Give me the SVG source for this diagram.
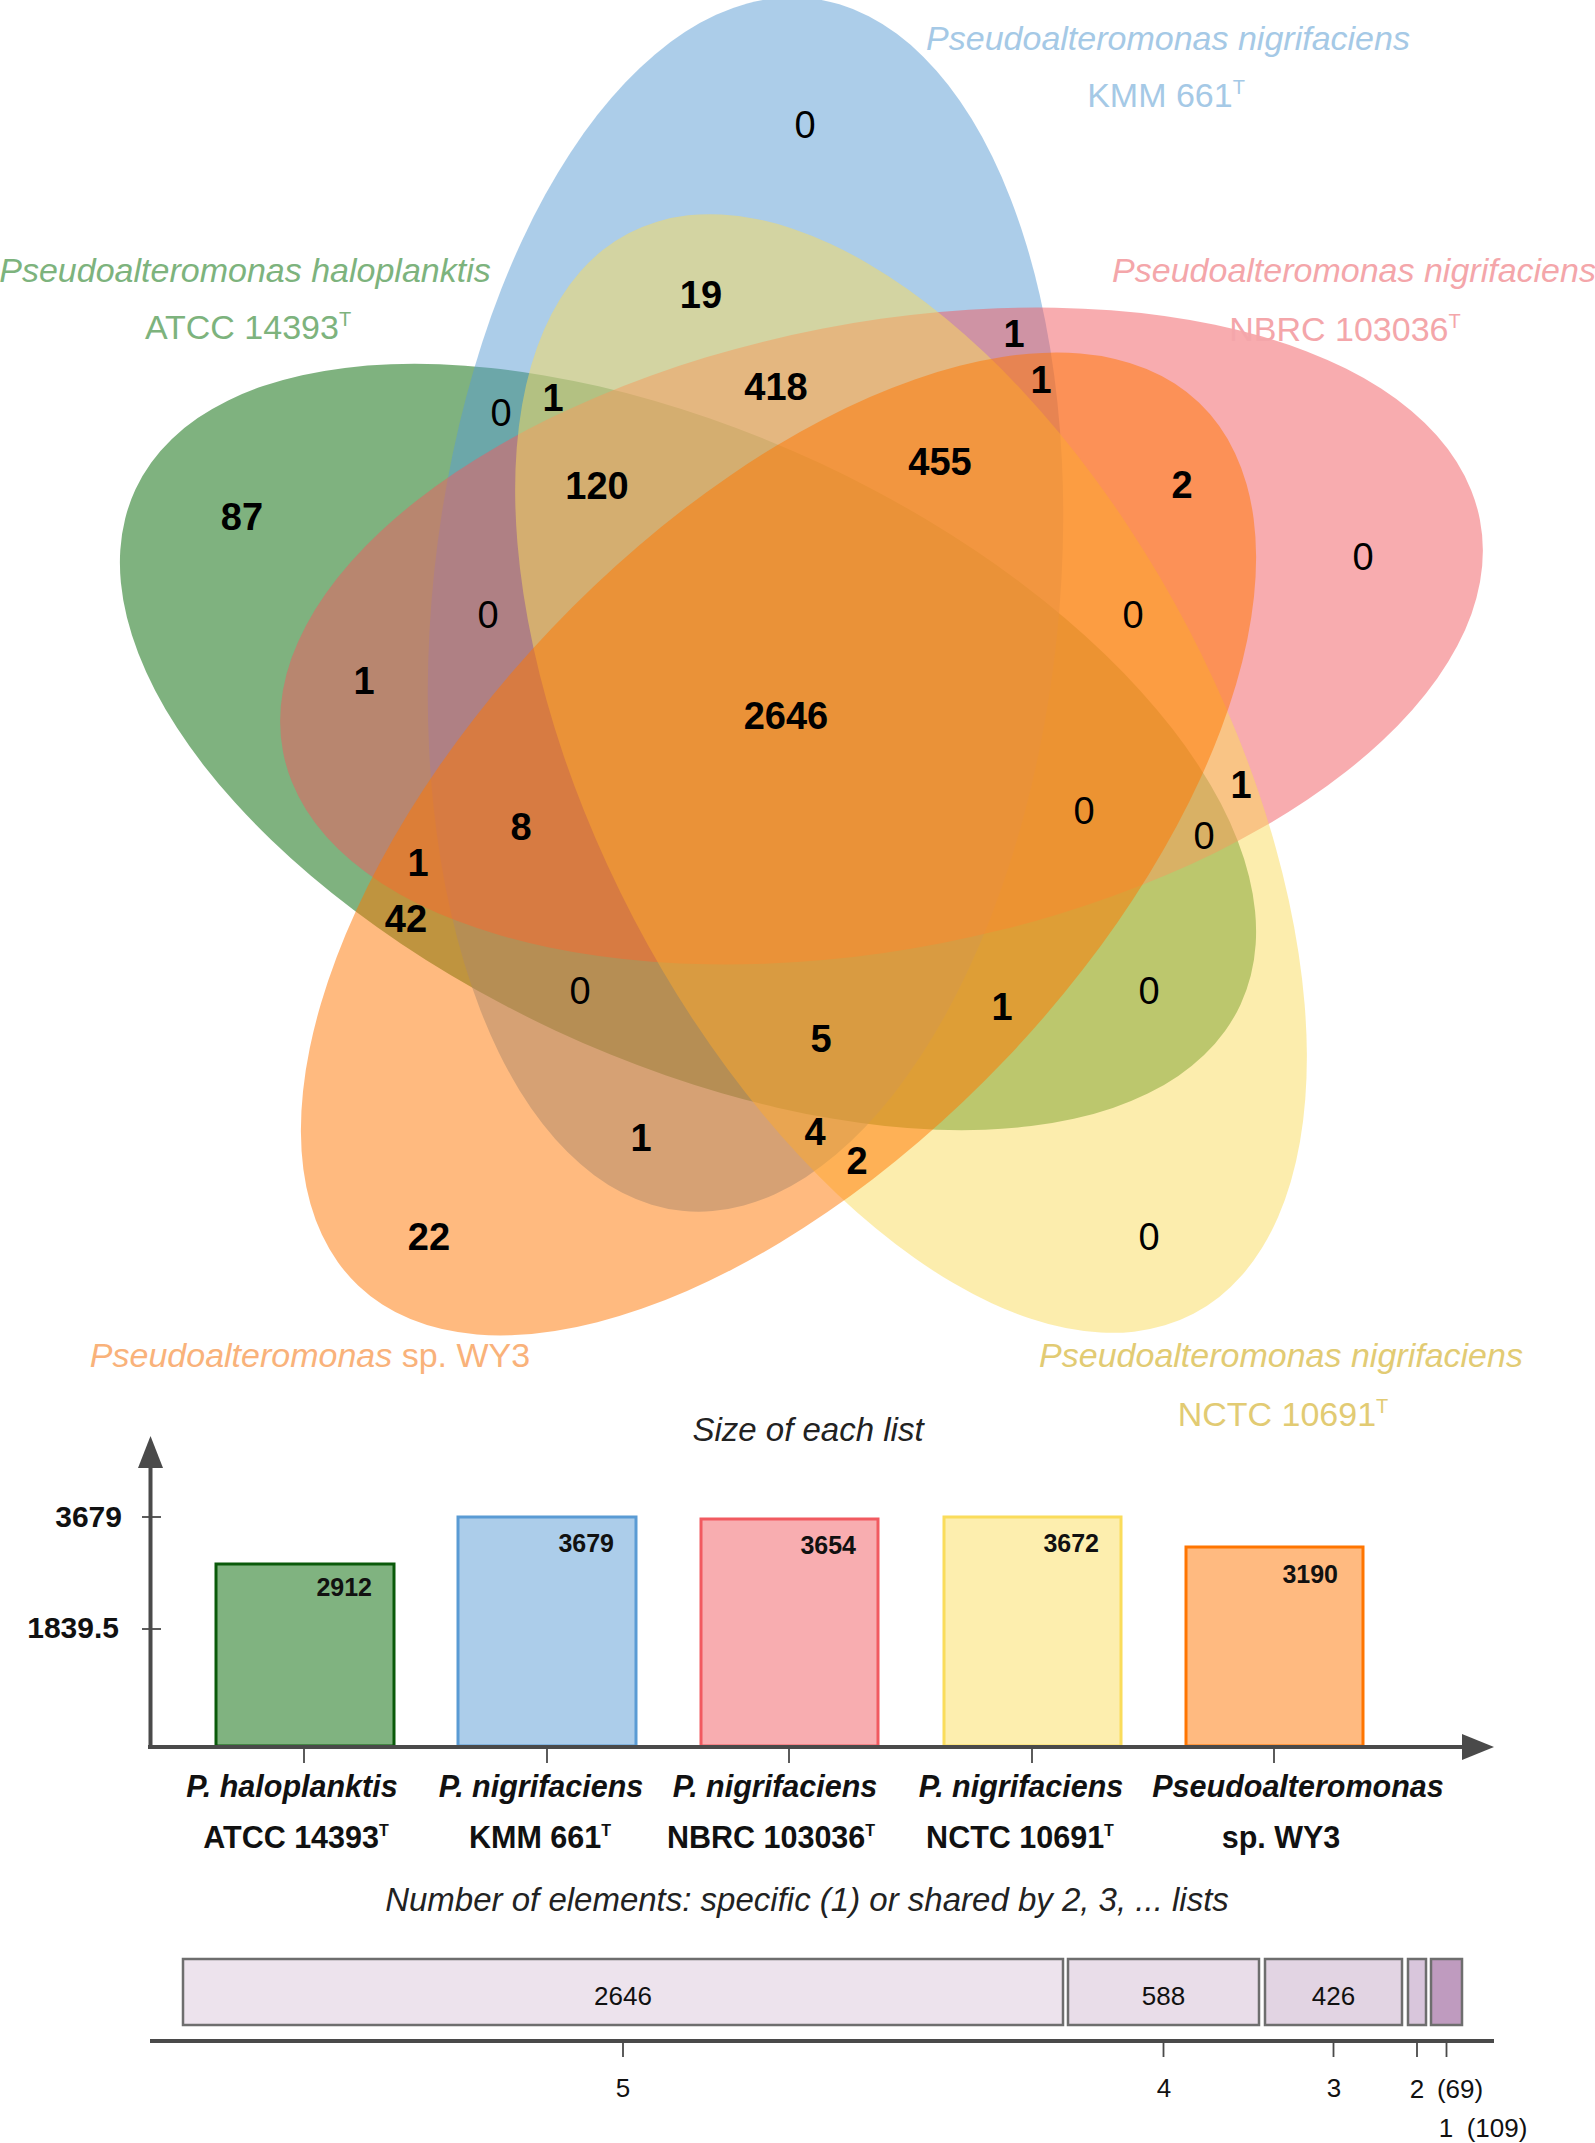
<svg xmlns="http://www.w3.org/2000/svg" width="1595" height="2143" viewBox="0 0 1595 2143">
<style>
text{font-family:"Liberation Sans",Arial,Helvetica,sans-serif}
.set{fill-opacity:0.5;stroke:none}
.n{font-size:38px;text-anchor:middle;fill:#000}
.b{font-weight:bold}
.lab{font-size:34px;text-anchor:middle}
.it{font-style:italic}
.title{font-size:33px;font-style:italic;text-anchor:middle;fill:#222}
.ax{stroke:#4a4a4a;stroke-width:4;fill:none}
.tk{stroke:#4a4a4a;stroke-width:1.8}
.yl{font-size:30px;font-weight:bold;text-anchor:end;fill:#111}
.bv{font-size:25px;font-weight:bold;text-anchor:end;fill:#111}
.xl{font-size:30.5px;font-weight:bold;text-anchor:middle;fill:#111}
.bar{stroke-width:3}
.deg{stroke:#6e6e6e;stroke-width:2.5}
.dl{font-size:26px;text-anchor:middle;fill:#111}
</style>

<g id="venn-sets">
  <ellipse id="set-haloplanktis" class="set" cx="688" cy="747" rx="313" ry="609.6" transform="rotate(-65 688 747)" fill="rgb(0,102,0)"/>
  <ellipse id="set-kmm661" class="set" cx="745.5" cy="604.5" rx="313" ry="609.6" transform="rotate(6 745.5 604.5)" fill="rgb(90,155,212)"/>
  <ellipse id="set-nbrc103036" class="set" cx="881.5" cy="636" rx="313" ry="609.6" transform="rotate(79 881.5 636)" fill="rgb(241,90,96)"/>
  <ellipse id="set-nctc10691" class="set" cx="911" cy="773.5" rx="313" ry="609.6" transform="rotate(152.4 911 773.5)" fill="rgb(250,220,91)"/>
  <ellipse id="set-wy3" class="set" cx="778.5" cy="844" rx="313" ry="609.6" transform="rotate(-136.4 778.5 844)" fill="rgb(255,117,0)"/>
</g>

<g id="venn-counts">
  <text class="n" x="805" y="138">0</text>
  <text class="n b" x="701" y="308">19</text>
  <text class="n b" x="1014" y="347">1</text>
  <text class="n b" x="1041" y="393">1</text>
  <text class="n b" x="776" y="400">418</text>
  <text class="n" x="501" y="426">0</text>
  <text class="n b" x="553" y="411">1</text>
  <text class="n b" x="940" y="475">455</text>
  <text class="n b" x="597" y="499">120</text>
  <text class="n b" x="1182" y="498">2</text>
  <text class="n b" x="242" y="530">87</text>
  <text class="n" x="1363" y="570">0</text>
  <text class="n" x="488" y="628">0</text>
  <text class="n" x="1133" y="628">0</text>
  <text class="n b" x="364" y="694">1</text>
  <text class="n b" x="786" y="729">2646</text>
  <text class="n b" x="1241" y="798">1</text>
  <text class="n" x="1084" y="824">0</text>
  <text class="n" x="1204" y="849">0</text>
  <text class="n b" x="521" y="840">8</text>
  <text class="n b" x="418" y="876">1</text>
  <text class="n b" x="406" y="932">42</text>
  <text class="n" x="580" y="1004">0</text>
  <text class="n" x="1149" y="1004">0</text>
  <text class="n b" x="1002" y="1020">1</text>
  <text class="n b" x="821" y="1052">5</text>
  <text class="n b" x="641" y="1151">1</text>
  <text class="n b" x="815" y="1145">4</text>
  <text class="n b" x="857" y="1174">2</text>
  <text class="n b" x="429" y="1250">22</text>
  <text class="n" x="1149" y="1250">0</text>
</g>

<g id="set-labels">
  <g id="label-kmm661" fill="#a5c9e6">
    <text class="lab it" x="1168" y="50">Pseudoalteromonas nigrifaciens</text>
    <text class="lab" x="1166" y="107">KMM 661<tspan font-size="20" dy="-13">T</tspan></text>
  </g>
  <g id="label-haloplanktis" fill="#7db37d">
    <text class="lab it" x="245" y="282">Pseudoalteromonas haloplanktis</text>
    <text class="lab" x="248" y="339">ATCC 14393<tspan font-size="20" dy="-13">T</tspan></text>
  </g>
  <g id="label-nbrc103036" fill="#f4a6aa">
    <text class="lab it" x="1354" y="282">Pseudoalteromonas nigrifaciens</text>
    <text class="lab" x="1345" y="341">NBRC 103036<tspan font-size="20" dy="-13">T</tspan></text>
  </g>
  <g id="label-wy3" fill="#f9b27a">
    <text class="lab" x="310" y="1367"><tspan font-style="italic">Pseudoalteromonas</tspan> sp. WY3</text>
  </g>
  <g id="label-nctc10691" fill="#e2cb73">
    <text class="lab it" x="1281" y="1367">Pseudoalteromonas nigrifaciens</text>
    <text class="lab" x="1283" y="1426">NCTC 10691<tspan font-size="20" dy="-13">T</tspan></text>
  </g>
</g>

<g id="size-chart">
  <text class="title" x="808" y="1441">Size of each list</text>
  <g id="bars">
    <rect id="bar-haloplanktis" class="bar" x="216" y="1564" width="178" height="182" fill="#80b380" stroke="#0a5a0a"/>
    <rect id="bar-kmm661" class="bar" x="458" y="1517" width="178" height="229" fill="#accdea" stroke="#5a9bd4"/>
    <rect id="bar-nbrc103036" class="bar" x="701" y="1519" width="177" height="227" fill="#f8adb0" stroke="#f15a60"/>
    <rect id="bar-nctc10691" class="bar" x="944" y="1517" width="177" height="229" fill="#fdeeae" stroke="#fadc5b"/>
    <rect id="bar-wy3" class="bar" x="1186" y="1547" width="177" height="199" fill="#ffba80" stroke="#ff7500"/>
  </g>
  <g id="bar-values">
    <text class="bv" x="372" y="1596">2912</text>
    <text class="bv" x="614" y="1552">3679</text>
    <text class="bv" x="856" y="1554">3654</text>
    <text class="bv" x="1099" y="1552">3672</text>
    <text class="bv" x="1338" y="1583">3190</text>
  </g>
  <g id="size-axes">
    <line class="ax" x1="150.5" y1="1466" x2="150.5" y2="1747"/>
    <polygon points="150.5,1436 138,1468 163,1468" fill="#4a4a4a"/>
    <line class="ax" x1="148" y1="1747" x2="1464" y2="1747"/>
    <polygon points="1494,1747 1462,1734 1462,1760" fill="#4a4a4a"/>
    <line class="tk" x1="142" y1="1517" x2="161" y2="1517"/>
    <line class="tk" x1="142" y1="1629" x2="161" y2="1629"/>
    <line class="tk" x1="304" y1="1747" x2="304" y2="1763"/>
    <line class="tk" x1="547" y1="1747" x2="547" y2="1763"/>
    <line class="tk" x1="789" y1="1747" x2="789" y2="1763"/>
    <line class="tk" x1="1032" y1="1747" x2="1032" y2="1763"/>
    <line class="tk" x1="1274" y1="1747" x2="1274" y2="1763"/>
    <text class="yl" x="122" y="1527">3679</text>
    <text class="yl" x="119" y="1638">1839.5</text>
  </g>
  <g id="bar-labels">
    <text class="xl it" x="292" y="1797">P. haloplanktis</text>
    <text class="xl" x="296" y="1848">ATCC 14393<tspan font-size="16" dy="-12">T</tspan></text>
    <text class="xl it" x="541" y="1797">P. nigrifaciens</text>
    <text class="xl" x="540" y="1848">KMM 661<tspan font-size="16" dy="-12">T</tspan></text>
    <text class="xl it" x="775" y="1797">P. nigrifaciens</text>
    <text class="xl" x="771" y="1848">NBRC 103036<tspan font-size="16" dy="-12">T</tspan></text>
    <text class="xl it" x="1021" y="1797">P. nigrifaciens</text>
    <text class="xl" x="1020" y="1848">NCTC 10691<tspan font-size="16" dy="-12">T</tspan></text>
    <text class="xl it" x="1298" y="1797">Pseudoalteromonas</text>
    <text class="xl" x="1281" y="1848">sp. WY3</text>
  </g>
</g>

<g id="degree-chart">
  <text class="title" x="807" y="1911">Number of elements: specific (1) or shared by 2, 3, ... lists</text>
  <g id="degree-boxes">
    <rect class="deg" x="183" y="1959" width="880" height="66" fill="#ede3ed"/>
    <rect class="deg" x="1068" y="1959" width="191" height="66" fill="#e9dde9"/>
    <rect class="deg" x="1265" y="1959" width="137" height="66" fill="#e2d4e3"/>
    <rect class="deg" x="1408" y="1959" width="18" height="66" fill="#d9c6dc"/>
    <rect class="deg" x="1431" y="1959" width="31" height="66" fill="#bf9bbf"/>
    <text class="dl" x="623" y="2005">2646</text>
    <text class="dl" x="1163.5" y="2005">588</text>
    <text class="dl" x="1333.5" y="2005">426</text>
  </g>
  <g id="degree-axis">
    <line class="ax" x1="150" y1="2041" x2="1494" y2="2041"/>
    <line class="tk" x1="623" y1="2041" x2="623" y2="2057"/>
    <line class="tk" x1="1163.5" y1="2041" x2="1163.5" y2="2057"/>
    <line class="tk" x1="1333.5" y1="2041" x2="1333.5" y2="2057"/>
    <line class="tk" x1="1417" y1="2041" x2="1417" y2="2057"/>
    <line class="tk" x1="1446.5" y1="2041" x2="1446.5" y2="2057"/>
    <text class="dl" x="623" y="2097">5</text>
    <text class="dl" x="1164" y="2097">4</text>
    <text class="dl" x="1334" y="2097">3</text>
    <text class="dl" x="1417" y="2098">2</text>
    <text class="dl" x="1460" y="2098">(69)</text>
    <text class="dl" x="1446" y="2137">1</text>
    <text class="dl" x="1497" y="2137">(109)</text>
  </g>
</g>
</svg>
